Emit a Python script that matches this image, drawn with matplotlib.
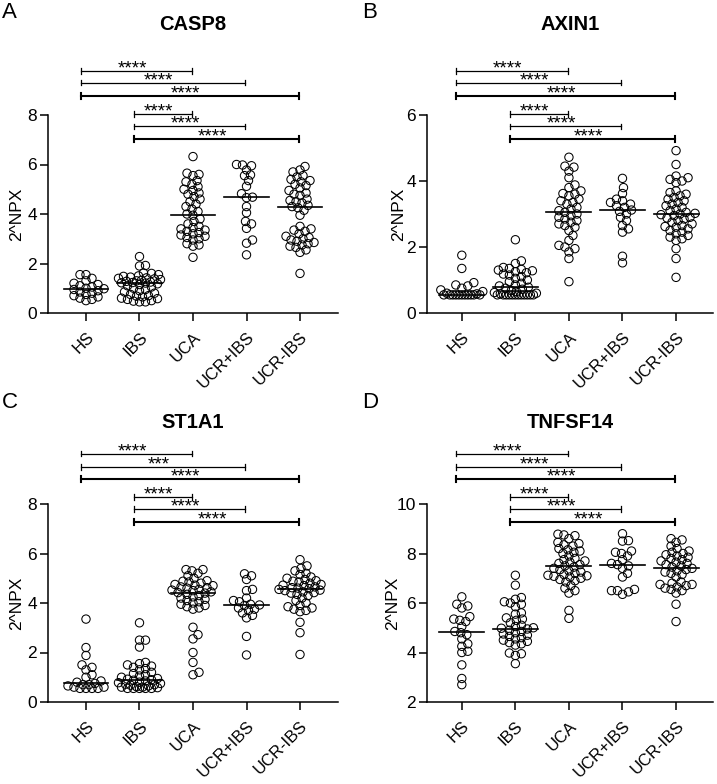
import numpy as np
import matplotlib
matplotlib.use("Agg")
from matplotlib import pyplot as plt
from matplotlib import transforms

plt.rcParams['font.family'] = ['Liberation Sans', 'DejaVu Sans']

groups = ['HS', 'IBS', 'UCA', 'UCR+IBS', 'UCR-IBS']

# --- CASP8 ---
casp8_hs = [1.55, 1.55, 1.4, 1.3, 1.2, 1.15, 1.1, 1.05, 1.0, 0.98, 0.95, 0.9, 0.85, 0.8,
            0.75, 0.7, 0.65, 0.6, 0.55, 0.5]
casp8_ibs = [2.28, 1.92, 1.9, 1.62, 1.6, 1.55, 1.5, 1.48, 1.45, 1.42, 1.4, 1.38, 1.35, 1.32,
             1.3, 1.28, 1.25, 1.23, 1.22, 1.21, 1.18, 1.15, 1.1, 1.05, 1.0, 0.95, 0.9, 0.85,
             0.8, 0.75, 0.7, 0.68, 0.65, 0.6, 0.58, 0.55, 0.5, 0.48, 0.45, 0.45]
casp8_uca = [6.32, 5.65, 5.6, 5.55, 5.35, 5.3, 5.2, 5.1, 5.0, 4.95, 4.85, 4.8, 4.7, 4.6, 4.5,
             4.4, 4.3, 4.2, 4.1, 4.0, 3.95, 3.8, 3.7, 3.6, 3.5, 3.45, 3.4, 3.35, 3.3, 3.25,
             3.2, 3.15, 3.1, 3.05, 3.0, 2.95, 2.8, 2.75, 2.7, 2.25]
casp8_ucr_ibs_pos = [6.0, 5.98, 5.95, 5.78, 5.58, 5.55, 5.35, 5.12, 4.82, 4.68, 4.66, 4.3,
                     4.05, 3.7, 3.6, 3.42, 2.95, 2.82, 2.35]
casp8_ucr_ibs_neg = [5.92, 5.78, 5.7, 5.55, 5.5, 5.4, 5.35, 5.3, 5.2, 5.15, 5.05, 4.95, 4.85,
                     4.8, 4.75, 4.6, 4.55, 4.5, 4.45, 4.35, 4.3, 4.25, 4.15, 3.95, 3.5, 3.4,
                     3.35, 3.3, 3.2, 3.1, 3.05, 3.0, 2.95, 2.9, 2.85, 2.8, 2.75, 2.7, 2.65,
                     2.55, 2.45, 1.6]

# --- AXIN1 ---
axin1_hs = [1.75, 1.35, 0.92, 0.85, 0.82, 0.75, 0.7, 0.65, 0.6, 0.58] + [0.55] * 11
axin1_ibs = [2.22, 1.58, 1.5, 1.38, 1.35, 1.32, 1.3, 1.28, 1.25, 1.22, 1.18, 1.15, 1.1, 1.05,
             1.0, 0.95, 0.9, 0.85, 0.82, 0.78, 0.75, 0.72, 0.68, 0.65, 0.62, 0.6, 0.58] + [0.55] * 12
axin1_uca = [4.72, 4.45, 4.42, 4.3, 4.1, 3.88, 3.8, 3.7, 3.62, 3.6, 3.55, 3.45, 3.4, 3.35, 3.3,
             3.2, 3.15, 3.1, 3.05, 3.0, 2.95, 2.9, 2.85, 2.8, 2.75, 2.7, 2.65, 2.6, 2.5, 2.35,
             2.2, 2.05, 2.0, 1.95, 1.85, 1.65, 0.95]
axin1_ucr_ibs_pos = [4.08, 3.8, 3.62, 3.45, 3.4, 3.35, 3.3, 3.25, 3.2, 3.12, 3.08, 3.0, 2.9,
                     2.8, 2.65, 2.55, 2.45, 1.72, 1.52]
axin1_ucr_ibs_neg = [4.92, 4.5, 4.15, 4.1, 4.05, 4.0, 3.95, 3.7, 3.65, 3.6, 3.55, 3.5, 3.45,
                     3.4, 3.35, 3.3, 3.25, 3.2, 3.15, 3.1, 3.05, 3.02, 3.0, 2.98, 2.95, 2.9,
                     2.88, 2.85, 2.8, 2.75, 2.7, 2.65, 2.62, 2.6, 2.55, 2.5, 2.45, 2.4, 2.35,
                     2.3, 2.25, 2.2, 1.95, 1.65, 1.08]

# --- ST1A1 ---
st1a1_hs = [3.35, 2.2, 1.88, 1.5, 1.4, 1.3, 1.1, 1.0, 0.85, 0.8, 0.75, 0.7, 0.7, 0.65, 0.6,
            0.6, 0.55, 0.55, 0.55, 0.55]
st1a1_ibs = [3.2, 2.5, 2.5, 2.22, 1.6, 1.55, 1.5, 1.45, 1.4, 1.35, 1.3, 1.2, 1.15, 1.1, 1.05,
             1.0, 0.95, 0.92, 0.9, 0.88, 0.85, 0.8, 0.78, 0.75, 0.72, 0.7, 0.68, 0.65, 0.62,
             0.6, 0.6, 0.58, 0.55, 0.55, 0.55, 0.55, 0.55]
st1a1_uca = [5.35, 5.35, 5.3, 5.2, 5.1, 5.0, 4.9, 4.88, 4.85, 4.8, 4.75, 4.72, 4.7, 4.65, 4.62,
             4.6, 4.55, 4.52, 4.5, 4.45, 4.42, 4.4, 4.35, 4.3, 4.25, 4.2, 4.15, 4.1, 4.05,
             4.0, 3.95, 3.9, 3.85, 3.8, 3.75, 3.02, 2.72, 2.55, 2.0, 1.6, 1.2, 1.1]
st1a1_ucr_ibs_pos = [5.18, 5.1, 4.95, 4.55, 4.5, 4.2, 4.1, 4.05, 3.95, 3.92, 3.9, 3.8, 3.75,
                     3.7, 3.6, 3.5, 3.4, 2.65, 1.9]
st1a1_ucr_ibs_neg = [5.75, 5.5, 5.4, 5.3, 5.2, 5.15, 5.05, 5.0, 4.95, 4.9, 4.88, 4.85, 4.8,
                     4.75, 4.72, 4.7, 4.65, 4.62, 4.6, 4.58, 4.55, 4.52, 4.5, 4.45, 4.42, 4.4,
                     4.35, 4.3, 4.2, 4.1, 4.0, 3.9, 3.85, 3.8, 3.75, 3.7, 3.65, 3.22, 2.8, 1.92]

# --- TNFSF14 ---
tnfsf14_hs = [6.25, 5.95, 5.88, 5.8, 5.45, 5.35, 5.3, 5.25, 5.05, 4.85, 4.8, 4.72, 4.55, 4.35,
              4.25, 4.05, 4.0, 3.5, 2.95, 2.7]
tnfsf14_ibs = [7.12, 6.72, 6.22, 6.15, 6.05, 6.0, 5.95, 5.85, 5.6, 5.55, 5.4, 5.35, 5.3, 5.2,
               5.1, 5.05, 5.0, 4.98, 4.95, 4.9, 4.85, 4.8, 4.75, 4.7, 4.65, 4.6, 4.55, 4.5,
               4.45, 4.4, 4.35, 4.3, 3.98, 3.95, 3.88, 3.55]
tnfsf14_uca = [8.78, 8.75, 8.72, 8.6, 8.45, 8.4, 8.35, 8.3, 8.2, 8.15, 8.1, 8.05, 8.0, 7.9,
               7.8, 7.75, 7.7, 7.65, 7.6, 7.55, 7.5, 7.45, 7.4, 7.35, 7.3, 7.25, 7.2, 7.15,
               7.12, 7.1, 7.08, 7.05, 7.0, 6.95, 6.9, 6.85, 6.7, 6.6, 6.5, 6.4, 5.7, 5.38]
tnfsf14_ucr_ibs_pos = [8.8, 8.52, 8.5, 8.1, 8.05, 8.0, 7.9, 7.75, 7.6, 7.55, 7.5, 7.4, 7.2,
                       7.05, 6.55, 6.5, 6.5, 6.45, 6.35]
tnfsf14_ucr_ibs_neg = [8.6, 8.55, 8.45, 8.3, 8.2, 8.1, 8.05, 8.0, 7.95, 7.9, 7.85, 7.8, 7.75,
                       7.7, 7.65, 7.6, 7.55, 7.5, 7.45, 7.4, 7.35, 7.3, 7.25, 7.2, 7.15, 7.05,
                       6.85, 6.8, 6.75, 6.75, 6.7, 6.65, 6.6, 6.55, 6.5, 6.4, 5.95, 5.25]

# significance brackets: (from group, to group)
pairs = [(0, 2), (0, 3), (0, 4), (1, 2), (1, 3), (1, 4)]
stars_casp8 = ['****'] * 6
stars_axin1 = ['****'] * 6
stars_st1a1 = ['****', '***', '****', '****', '****', '****']
stars_tnfsf14 = ['****'] * 6

panels = [
    ('A', 'CASP8', [casp8_hs, casp8_ibs, casp8_uca, casp8_ucr_ibs_pos, casp8_ucr_ibs_neg],
     (0, 8), [0, 2, 4, 6, 8], stars_casp8),
    ('B', 'AXIN1', [axin1_hs, axin1_ibs, axin1_uca, axin1_ucr_ibs_pos, axin1_ucr_ibs_neg],
     (0, 6), [0, 2, 4, 6], stars_axin1),
    ('C', 'ST1A1', [st1a1_hs, st1a1_ibs, st1a1_uca, st1a1_ucr_ibs_pos, st1a1_ucr_ibs_neg],
     (0, 8), [0, 2, 4, 6, 8], stars_st1a1),
    ('D', 'TNFSF14', [tnfsf14_hs, tnfsf14_ibs, tnfsf14_uca, tnfsf14_ucr_ibs_pos,
                      tnfsf14_ucr_ibs_neg], (2, 10), [2, 4, 6, 8, 10], stars_tnfsf14),
]


def swarm_offsets(vals, px_per_unit, d, maxw):
    # simple beeswarm, works in pixels
    vals = np.asarray(vals, float)
    xs = np.zeros(len(vals))
    placed = []
    cands = [0.0]
    for k in range(1, int(maxw) + 1):
        cands += [k, -k]
    for i in np.argsort(vals):
        y = vals[i] * px_per_unit
        best, best_gap = None, -1
        for c in cands:
            gap = min([np.hypot(c - px, y - py) for px, py in placed] + [1e9])
            if gap >= d:
                best = c
                break
            if gap > best_gap:
                best_gap, best_c = gap, c
        if best is None:
            best = best_c
        placed.append((best, y))
        xs[i] = best
    return xs


W, H = 717, 784
fig = plt.figure(figsize=(W / 100, H / 100), dpi=100)

# axes boxes in pixels: left, right, top, bottom
boxes = [(48, 338, 115, 313), (427, 713, 115, 313),
         (48, 338, 504, 702), (427, 713, 504, 702)]
xlims = [(-0.71, 4.71), (-0.65, 4.69), (-0.71, 4.71), (-0.65, 4.69)]
ylab_x = [-0.082, -0.073, -0.082, -0.094]
bracket_y = [[1.222, 1.162, 1.096, 1.005, 0.944, 0.879],
             [1.222, 1.162, 1.096, 1.005, 0.944, 0.879],
             [1.253, 1.187, 1.126, 1.035, 0.975, 0.909],
             [1.253, 1.187, 1.126, 1.035, 0.975, 0.909]]

for p, (letter, title, data, ylim, yticks, stars) in enumerate(panels):
    l, r, t, b = boxes[p]
    ax = fig.add_axes([l / W, 1 - b / H, (r - l) / W, (b - t) / H])
    ax.set_xlim(*xlims[p])
    ax.set_ylim(*ylim)
    xpx = (r - l) / (xlims[p][1] - xlims[p][0])
    ypx = (b - t) / (ylim[1] - ylim[0])

    for g, vals in enumerate(data):
        off = swarm_offsets(vals, ypx, 6.0, 0.4 * xpx)
        ax.scatter(g + off / xpx, vals, s=36, facecolors='none', edgecolors='black',
                   linewidths=0.75, zorder=3, clip_on=False)
        med = np.median(vals)
        ax.plot([g - 0.42, g + 0.42], [med, med], color='black', lw=1.2, zorder=4)

    ax.set_xticks(range(len(groups)))
    ax.set_xticklabels(groups, rotation=45, ha='right', va='top', rotation_mode='anchor',
                       fontsize=12)
    shift = transforms.ScaledTranslation(4 / 100, 0, fig.dpi_scale_trans)
    for lab in ax.get_xticklabels():
        lab.set_transform(lab.get_transform() + shift)
    ax.set_yticks(yticks)
    ax.tick_params(axis='y', labelsize=12.5, length=5.8, width=1.1, pad=2)
    ax.tick_params(axis='x', length=5.8, width=1.1, pad=6)
    ax.spines['right'].set_visible(False)
    ax.spines['top'].set_visible(False)
    ax.spines['left'].set_linewidth(1.1)
    ax.spines['bottom'].set_linewidth(1.1)
    ax.set_ylabel('2^NPX', fontsize=12.5)
    ax.yaxis.set_label_coords(ylab_x[p], 0.5)

    trans = transforms.blended_transform_factory(ax.transData, ax.transAxes)
    for k, (g1, g2) in enumerate(pairs):
        yb = bracket_y[p][k]
        x1, x2 = g1 - 0.1, g2 - 0.02
        lw = 1.5 if g2 == 4 else 0.9
        ax.plot([x1, x2], [yb, yb], color='black', lw=lw, transform=trans, clip_on=False)
        for xe in (x1, x2):
            ax.plot([xe, xe], [yb - 0.013, yb + 0.013], color='black', lw=lw,
                    transform=trans, clip_on=False)
        ax.annotate(stars[k], xy=((x1 + x2) / 2 - 0.08, yb), xycoords=trans,
                    xytext=(0, -1.8), textcoords='offset points', ha='center',
                    va='baseline', fontsize=13.5)

    fig.text((l + r) / 2 / W, 1 - (t - (90 if p < 2 else 81)) / H, title,
             ha='center', va='center', fontsize=14.5, fontweight='bold')
    fig.text((2 if p % 2 == 0 else 362) / W, 1 - (12 if p < 2 else 402) / H, letter,
             ha='left', va='center', fontsize=16)

fig.savefig('out.png', dpi=100)
